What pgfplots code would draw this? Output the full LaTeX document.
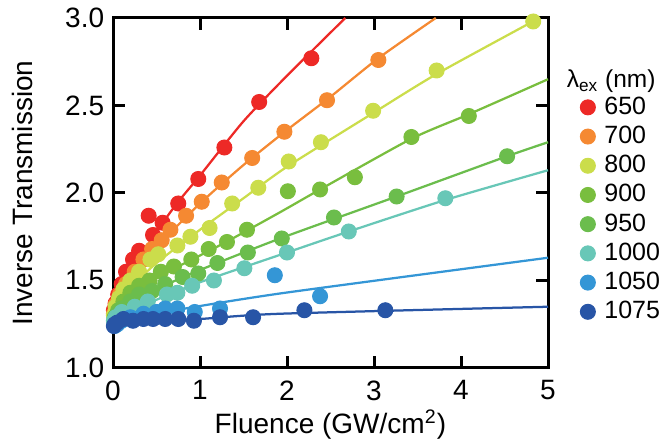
\documentclass[border=0pt]{standalone}
\usepackage{fontspec}
\setmainfont{Liberation Sans}
\usepackage{pgfplots}
\pgfplotsset{compat=1.18}
\definecolor{c650}{RGB}{237,41,38}
\definecolor{c700}{RGB}{245,137,50}
\definecolor{c800}{RGB}{203,221,75}
\definecolor{c900}{RGB}{121,190,62}
\definecolor{c950}{RGB}{107,189,77}
\definecolor{c1000}{RGB}{104,199,183}
\definecolor{c1050}{RGB}{52,150,214}
\definecolor{c1075}{RGB}{40,85,166}

\begin{document}
\begin{tikzpicture}
\begin{axis}[
  scale only axis, width=174pt, height=140pt,
  xmin=0, xmax=5, ymin=1, ymax=3,
  xtick={0,1,2,3,4,5}, ytick={1,1.5,2,2.5,3},
  tick align=inside, major tick length=4.8pt,
  axis line style={line width=1.2pt},
  every tick/.style={line width=1.2pt, black},
  /pgf/number format/assume math mode=true,
  y tick label style={/pgf/number format/.cd, fixed, fixed zerofill, precision=1},
  tick label style={font=\fontsize{11.2}{13}\selectfont},
  x tick label style={yshift=-1.5pt},
  label style={font=\fontsize{11.2}{13}\selectfont},
  xlabel={Fluence (GW/cm\textsuperscript{2})},
  ylabel={Inverse Transmission},
  xlabel style={at={(axis description cs:0.5,-0.162)}, anchor=center},
  ylabel style={at={(axis description cs:-0.209,0.5)}, anchor=center},
  clip=false,
  legend style={at={(axis description cs:1.056,0.805)}, anchor=north west,
    draw=none, fill=none, font=\fontsize{10}{12}\selectfont, row sep=-0.8pt,
    column sep=1.6pt},
  legend cell align=left,
]
% fit lines
\addplot[c650, line width=0.9pt, smooth, tension=0.4, forget plot] coordinates {
  (0,1.28)(0.05,1.36)(0.1,1.43)(0.25,1.58)(0.5,1.78)(0.75,1.95)(1.0,2.10)(1.5,2.41)(2.0,2.67)(2.67,3.0)};
\addplot[c700, line width=0.9pt, smooth, tension=0.4, forget plot] coordinates {
  (0,1.28)(0.1,1.41)(0.25,1.53)(0.5,1.69)(1.0,1.94)(1.5,2.16)(2.0,2.36)(2.5,2.55)(3.05,2.77)(3.71,3.0)};
\addplot[c800, line width=0.9pt, smooth, tension=0.4, forget plot] coordinates {
  (0,1.27)(0.1,1.38)(0.25,1.48)(0.5,1.60)(1.0,1.79)(1.5,1.97)(2.0,2.15)(3.0,2.46)(3.72,2.68)(4.9,3.0)};
\addplot[c900, line width=0.9pt, smooth, tension=0.4, forget plot] coordinates {
  (0,1.27)(0.1,1.36)(0.25,1.44)(0.5,1.52)(0.83,1.60)(1.3,1.72)(1.92,1.89)(2.38,2.02)(3.43,2.31)(4.09,2.45)(5.0,2.65)};
\addplot[c950, line width=0.9pt, smooth, tension=0.4, forget plot] coordinates {
  (0,1.26)(0.1,1.32)(0.25,1.38)(0.5,1.45)(1.0,1.56)(1.92,1.74)(3.26,1.98)(4.53,2.21)(5.0,2.29)};
\addplot[c1000, line width=0.9pt, smooth, tension=0.4, forget plot] coordinates {
  (0,1.26)(0.1,1.29)(0.25,1.33)(0.5,1.39)(1.0,1.49)(2.0,1.66)(2.71,1.78)(3.82,1.96)(5.0,2.13)};
\addplot[c1050, line width=0.9pt, smooth, tension=0.4, forget plot] coordinates {
  (0,1.25)(0.1,1.27)(0.3,1.29)(0.83,1.34)(1.98,1.43)(5.0,1.63)};
\addplot[c1075, line width=0.9pt, smooth, tension=0.4, forget plot] coordinates {
  (0,1.24)(0.1,1.25)(0.5,1.27)(1.0,1.28)(1.92,1.31)(5.0,1.35)};
% measured points
\addplot[only marks, mark=*, mark size=3pt, c650] coordinates {
  (0.01,1.33)(0.03,1.37)(0.06,1.42)(0.10,1.48)(0.15,1.55)(0.23,1.62)(0.30,1.67)(0.41,1.87)
  (0.46,1.76)(0.57,1.83)(0.75,1.94)(0.98,2.08)(1.28,2.26)(1.68,2.52)(2.28,2.77)};
\addlegendentry{650}
\addplot[only marks, mark=*, mark size=3pt, c700] coordinates {
  (0.01,1.31)(0.03,1.36)(0.08,1.42)(0.15,1.48)(0.25,1.55)(0.35,1.62)(0.45,1.68)(0.56,1.73)
  (0.66,1.79)(0.84,1.87)(1.02,1.95)(1.25,2.06)(1.60,2.20)(1.97,2.35)(2.46,2.53)(3.05,2.76)};
\addlegendentry{700}
\addplot[only marks, mark=*, mark size=3pt, c800] coordinates {
  (0.01,1.30)(0.03,1.35)(0.07,1.40)(0.12,1.45)(0.2,1.50)(0.3,1.55)(0.43,1.62)(0.52,1.65)
  (0.74,1.70)(0.89,1.75)(1.11,1.80)(1.37,1.94)(1.67,2.03)(2.02,2.18)(2.39,2.29)(2.99,2.47)
  (3.72,2.70)(4.83,2.98)};
\addlegendentry{800}
\addplot[only marks, mark=*, mark size=3pt, c900] coordinates {
  (0.02,1.29)(0.06,1.33)(0.12,1.38)(0.2,1.43)(0.3,1.47)(0.42,1.50)(0.55,1.55)(0.7,1.58)
  (0.9,1.62)(1.1,1.68)(1.31,1.72)(1.54,1.79)(2.01,2.01)(2.38,2.02)(2.78,2.09)(3.43,2.32)(4.09,2.44)};
\addlegendentry{900}
\addplot[only marks, mark=*, mark size=3pt, c950] coordinates {
  (0.02,1.28)(0.05,1.31)(0.1,1.34)(0.2,1.38)(0.3,1.42)(0.45,1.44)(0.6,1.48)(0.8,1.52)
  (0.98,1.54)(1.2,1.60)(1.55,1.66)(1.94,1.74)(2.54,1.86)(3.26,1.98)(4.53,2.21)};
\addlegendentry{950}
\addplot[only marks, mark=*, mark size=3pt, c1000] coordinates {
  (0.01,1.27)(0.03,1.29)(0.1,1.32)(0.25,1.35)(0.4,1.38)(0.62,1.42)(0.74,1.43)(0.91,1.47)
  (1.16,1.50)(1.51,1.57)(2.0,1.66)(2.71,1.78)(3.82,1.97)};
\addlegendentry{1000}
\addplot[only marks, mark=*, mark size=3pt, c1050] coordinates {
  (0.02,1.24)(0.05,1.25)(0.1,1.27)(0.2,1.29)(0.35,1.31)(0.5,1.32)(0.6,1.34)(0.74,1.34)
  (0.94,1.32)(1.23,1.34)(1.86,1.53)(2.38,1.41)};
\addlegendentry{1050}
\addplot[only marks, mark=*, mark size=3pt, c1075] coordinates {
  (0.01,1.24)(0.02,1.25)(0.05,1.26)(0.12,1.28)(0.23,1.27)(0.35,1.28)(0.46,1.28)(0.6,1.28)
  (0.75,1.28)(0.93,1.27)(1.23,1.29)(1.61,1.29)(2.2,1.33)(3.13,1.33)};
\addlegendentry{1075}
\node[anchor=west, inner sep=0pt, font=\fontsize{9.8}{12}\selectfont]
  at (axis description cs:1.042,0.82) {λ\textsubscript{ex} (nm)};
\coordinate (bl) at (rel axis cs:0,0);
\coordinate (tr) at (rel axis cs:1,1);
\end{axis}
\pgfresetboundingbox
\path ([shift={(-45.2pt,-30.8pt)}]bl) rectangle ([shift={(44.4pt,7.2pt)}]tr);
\end{tikzpicture}
\end{document}
